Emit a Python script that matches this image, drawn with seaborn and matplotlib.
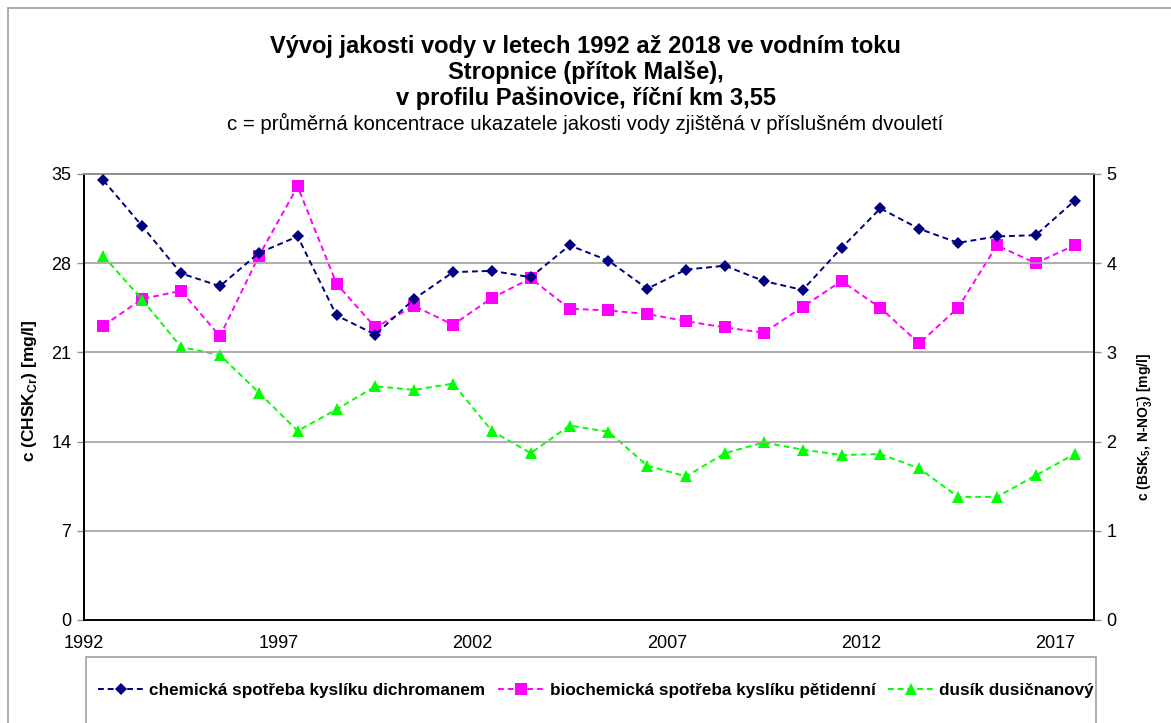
import matplotlib
matplotlib.use("Agg")
import matplotlib.pyplot as plt
from matplotlib.patches import Rectangle
from matplotlib.lines import Line2D
import seaborn as sns
import pandas as pd

sns.set_theme(style="white")
plt.rcParams["font.family"] = ["Liberation Sans", "DejaVu Sans"]
plt.rcParams["mathtext.fontset"] = "custom"
plt.rcParams["mathtext.rm"] = "Liberation Sans"
plt.rcParams["mathtext.bf"] = "Liberation Sans:bold"
plt.rcParams["text.color"] = "black"
plt.rcParams["axes.labelcolor"] = "black"

# midpoints of the two-year evaluation periods 1992-1993 ... 2017-2018
roky = [1992.5 + i for i in range(26)]

chsk = [34.5, 30.9, 27.2, 26.2, 28.8, 30.1, 23.9, 22.4, 25.2, 27.3, 27.4, 26.9, 29.4,
        28.2, 26.0, 27.5, 27.8, 26.6, 25.9, 29.2, 32.3, 30.7, 29.6, 30.1, 30.2, 32.9]

bsk5 = [3.30, 3.60, 3.69, 3.18, 4.08, 4.86, 3.77, 3.28, 3.52, 3.31, 3.61, 3.83, 3.49,
        3.47, 3.43, 3.35, 3.28, 3.22, 3.51, 3.80, 3.50, 3.10, 3.50, 4.20, 4.00, 4.20]

no3 = [4.08, 3.59, 3.06, 2.97, 2.55, 2.12, 2.36, 2.62, 2.58, 2.65, 2.12, 1.87, 2.18,
       2.11, 1.73, 1.61, 1.87, 1.99, 1.91, 1.85, 1.86, 1.70, 1.38, 1.38, 1.62, 1.86]

nazvy = ["chemická spotřeba kyslíku dichromanem",
         "biochemická spotřeba kyslíku pětidenní",
         "dusík dusičnanový"]
barvy = ["#000080", "#FF00FF", "#00FF00"]
znacky = ["D", "s", "^"]
velikosti = [6.5, 8, 8]

levy_ticks = [0, 7, 14, 21, 28, 35]
pravy_ticks = [0, 1, 2, 3, 4, 5]
x_ticks = [1992, 1997, 2002, 2007, 2012, 2017]

df = pd.DataFrame({"rok": roky, "chsk": chsk, "bsk5": bsk5, "no3": no3})

W, H = 1171, 723
fig = plt.figure(figsize=(W / 100, H / 100), dpi=100)
fig.patch.set_facecolor("white")

ax = fig.add_axes([84 / W, 1 - 620 / H, (1094 - 84) / W, (620 - 174) / H])
ax2 = ax.twinx()

car = (0, (3, 2))
sns.lineplot(data=df, x="rok", y="chsk", ax=ax, color=barvy[0], marker=znacky[0],
             markersize=velikosti[0], markeredgewidth=0, linewidth=1.4,
             linestyle=car, zorder=5)
sns.lineplot(data=df, x="rok", y="bsk5", ax=ax2, color=barvy[1], marker=znacky[1],
             markersize=velikosti[1], markeredgewidth=0, linewidth=1.4,
             linestyle=car, zorder=4)
sns.lineplot(data=df, x="rok", y="no3", ax=ax2, color=barvy[2], marker=znacky[2],
             markersize=velikosti[2], markeredgewidth=0, linewidth=1.4,
             linestyle=car, zorder=4)

ax.set_xlim(1992, 2018)
ax.set_ylim(0, 35)
ax2.set_ylim(0, 5)
ax.set_xticks(x_ticks)
ax.set_xticklabels([str(t) for t in x_ticks])
ax.set_yticks(levy_ticks)
ax2.set_yticks(pravy_ticks)
ax.set_xlabel("")
ax.set_ylabel(r"c (CHSK$_{\mathbf{Cr}}$) [mg/l]", fontsize=12.5, fontweight="bold")
ax.yaxis.set_label_coords(-0.0446, 0.515)
ax2.set_ylabel(r"c (BSK$_{\mathbf{5}}$, N-NO$_{\mathbf{3}}^{\mathbf{-}}$) [mg/l]",
               fontsize=10, fontweight="bold", rotation=90)
ax2.yaxis.set_label_coords(1.0406, 0.433)

# the primary axes sits above the twin so its grid stays visible
ax.set_zorder(ax2.get_zorder() + 1)
ax.patch.set_visible(False)
ax.yaxis.grid(True, color="#a0a0a0", linewidth=1.2)
ax.xaxis.grid(False)
ax2.grid(False)

for a in (ax, ax2):
    a.tick_params(axis="both", which="both", direction="out", length=5, width=1,
                  color="#909090", labelsize=13, labelcolor="black", pad=4)
    for side in ("left", "right", "bottom"):
        a.spines[side].set_color("black")
        a.spines[side].set_linewidth(1.3)
    a.spines["top"].set_color("#909090")
    a.spines["top"].set_linewidth(1.3)
ax.tick_params(axis="x", pad=6)

# titles
fig.text(0.5, 1 - 46 / H, "Vývoj jakosti vody v letech 1992 až 2018 ve vodním toku",
         ha="center", va="center", fontsize=17, fontweight="bold")
fig.text(0.5, 1 - 72 / H, "Stropnice (přítok Malše),",
         ha="center", va="center", fontsize=17, fontweight="bold")
fig.text(0.5, 1 - 98 / H, "v profilu Pašinovice, říční km 3,55",
         ha="center", va="center", fontsize=17, fontweight="bold")
fig.text(0.5, 1 - 123 / H,
         "c = průměrná koncentrace ukazatele jakosti vody zjištěná v příslušném dvouletí",
         ha="center", va="center", fontsize=14.7)

# outer chart frame (top and left edges)
fig.add_artist(Line2D([7.5 / W, 7.5 / W], [0, 1 - 8 / H], transform=fig.transFigure,
                      color="#a0a0a0", linewidth=1.2))
fig.add_artist(Line2D([7.5 / W, 1.0], [1 - 8 / H, 1 - 8 / H], transform=fig.transFigure,
                      color="#a0a0a0", linewidth=1.2))

# legend box
fig.add_artist(Rectangle((86 / W, -0.01), (1096 - 86) / W, (723 - 657) / H + 0.01,
                         transform=fig.transFigure, facecolor="white",
                         edgecolor="#a0a0a0", linewidth=1.2))
handles = [Line2D([], [], color=c, marker=m, markersize=s, markeredgewidth=0,
                  linewidth=1.4, linestyle=car)
           for c, m, s in zip(barvy, znacky, velikosti)]
fig.legend(handles, nazvy, loc="center", bbox_to_anchor=(596 / W, 1 - 690 / H),
           ncol=3, frameon=False, prop={"size": 12.3, "weight": "bold"},
           handlelength=2.7, handletextpad=0.3, columnspacing=0.75)

fig.savefig("out.png", dpi=100, facecolor="white")
